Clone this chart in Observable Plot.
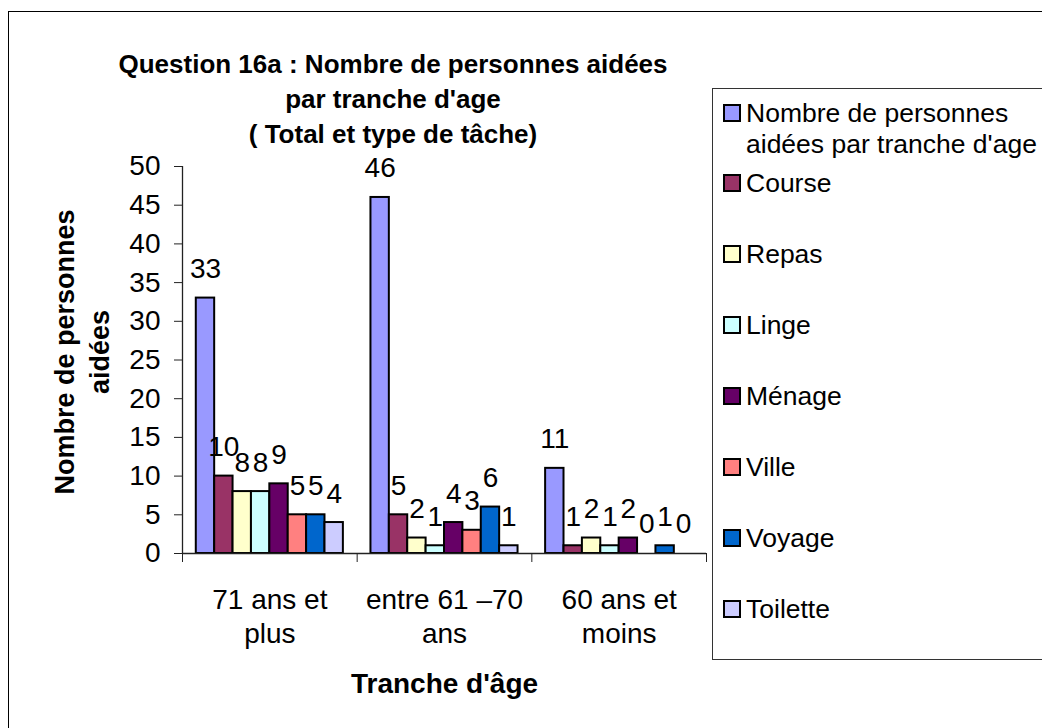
<!DOCTYPE html>
<html>
<head>
<meta charset="utf-8">
<script src="https://cdn.jsdelivr.net/npm/d3@7"></script>
<script src="https://cdn.jsdelivr.net/npm/@observablehq/plot@0.6"></script>
<style>
  body { margin: 0; background: #fff; font-family: "Liberation Sans", Arial, sans-serif; }
  #page { position: relative; width: 1042px; height: 728px; overflow: hidden; }
  #frame { position: absolute; left: 8px; top: 11px; width: 1100px; height: 800px; border: 1.5px solid #000; box-sizing: border-box; }
  #title { position: absolute; left: 0; width: 786px; top: 47px; text-align: center; font-weight: bold; font-size: 26px; line-height: 35px; color: #000; }
  #chart { position: absolute; left: 0; top: 0; }
  #legend { position: absolute; left: 712px; top: 88px; width: 340px; height: 572px; border: 1.5px solid #333; box-sizing: border-box; background: #fff; }
  .item { position: absolute; left: 10px; font-size: 26.5px; line-height: 31px; color: #000; }
  .sw { position: absolute; left: 0; top: 6px; width: 14px; height: 14px; border: 2px solid #000; }
  .lbl { position: absolute; left: 23px; white-space: nowrap; }
</style>
</head>
<body>
<div id="page">
  <div id="frame"></div>
  <div id="chart"></div>
  <div id="title">Question 16a : Nombre de personnes aidées<br>par tranche d'age<br>( Total et type de tâche)</div>
  <div id="legend"></div>
</div>
<script>
const groups = ["71 ans et\nplus", "entre 61 –70\nans", "60 ans et\nmoins"];
const series = ["Nombre de personnes aidées par tranche d'age", "Course", "Repas", "Linge", "Ménage", "Ville", "Voyage", "Toilette"];
const legendLabels = ["Nombre de personnes\naidées par tranche d'age", "Course", "Repas", "Linge", "Ménage", "Ville", "Voyage", "Toilette"];
const colors = ["#9999FF", "#993366", "#FFFFCC", "#CCFFFF", "#660066", "#FF8080", "#0066CC", "#CCCCFF"];

const nombre   = [33, 46, 11];
const course   = [10, 5, 1];
const repas    = [8, 2, 2];
const linge    = [8, 1, 1];
const menage   = [9, 4, 2];
const ville    = [5, 3, 0];
const voyage   = [5, 6, 1];
const toilette = [4, 1, 0];
const yTicks = [0, 5, 10, 15, 20, 25, 30, 35, 40, 45, 50];

const valuesBySeries = [nombre, course, repas, linge, menage, ville, voyage, toilette];

// grouped layout: each group spans one unit; bars with 150% gap width
const step = 1 / (series.length + 1.5);
const rows = [];
groups.forEach((g, gi) => {
  series.forEach((s, si) => {
    rows.push({
      group: g, series: s, value: valuesBySeries[si][gi],
      x1: gi + (0.75 + si) * step,
      x2: gi + (1.75 + si) * step
    });
  });
});
const groupCenters = groups.map((g, i) => ({label: g, x: i + 0.5}));

const chart = Plot.plot({
  width: 1042,
  height: 728,
  marginLeft: 182,
  marginRight: 336,
  marginTop: 166,
  marginBottom: 175,
  x: {type: "linear", domain: [0, groups.length]},
  y: {type: "linear", domain: [0, 50]},
  color: {domain: series, range: colors},
  style: {fontFamily: "'Liberation Sans', Arial, sans-serif", fontSize: "28px", color: "#000", background: "transparent", overflow: "visible"},
  marks: [
    Plot.rect(rows, {x1: "x1", x2: "x2", y1: () => 0, y2: "value", fill: "series", stroke: "#000", strokeWidth: 2}),
    Plot.ruleY([0], {stroke: "#222", strokeWidth: 1.3}),
    Plot.ruleX([0], {stroke: "#222", strokeWidth: 1.3}),
    Plot.axisY({ticks: yTicks, tickSize: 8, tickPadding: 14, fontSize: 28, label: null, stroke: "#222"}),
    Plot.axisX({ticks: [0, 1, 2, 3], tickSize: 9, tickFormat: () => "", label: null, stroke: "#222"}),
    Plot.text(groupCenters, {x: "x", text: "label", frameAnchor: "bottom", lineAnchor: "top", dy: 32, lineHeight: 1.2, fontSize: 28}),
    Plot.text(rows, {x: d => (d.x1 + d.x2) / 2, y: "value", text: d => String(d.value), dy: -29, fontSize: 28}),
    Plot.text(["Tranche d'âge"], {frameAnchor: "bottom", dy: 139, fontWeight: "bold", fontSize: 28}),
    Plot.text(["Nombre de personnes\naidées"], {frameAnchor: "left", textAnchor: "middle", rotate: -90, dx: -102, dy: -8, lineHeight: 1.3, fontWeight: "bold", fontSize: 27})
  ]
});
document.getElementById("chart").appendChild(chart);

const legend = document.getElementById("legend");
legendLabels.forEach((lab, i) => {
  const item = document.createElement("div");
  item.className = "item";
  item.style.top = (112 - 88 - 15.5 + i * 70.9) + "px";
  const sw = document.createElement("div");
  sw.className = "sw";
  sw.style.background = colors[i];
  const t = document.createElement("div");
  t.className = "lbl";
  t.innerHTML = lab.replace("\n", "<br>");
  item.appendChild(sw);
  item.appendChild(t);
  legend.appendChild(item);
});
</script>
</body>
</html>
